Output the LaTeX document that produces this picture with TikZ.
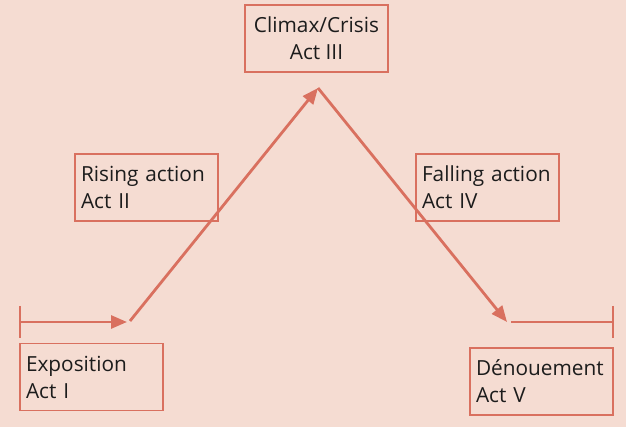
\documentclass[tikz,border=0pt]{standalone}
\usepackage{fontspec}
\setmainfont{Open Sans}
\usetikzlibrary{arrows.meta}
\definecolor{bgpink}{HTML}{F5DCD2}
\definecolor{plotred}{HTML}{D9705F}
\definecolor{inkgrey}{HTML}{1C1C1C}
\begin{document}
\begin{tikzpicture}[x=1pt,y=-1pt,
  actbox/.style={draw=plotred, line width=1.6pt, minimum width=143pt, minimum height=67pt,
    inner sep=0pt, text=inkgrey, font=\fontsize{20.8}{27}\selectfont},
  leftbox/.style={actbox, align=left, text width=131pt},
  arc/.style={draw=plotred, line width=2.8pt},
  tip/.style={-{Triangle[length=16pt,width=13pt]}}]
  % background
  \fill[bgpink] (0,0) rectangle (626,427);
  \useasboundingbox (0,0) rectangle (626,427);

  % act labels
  \node[leftbox] (exp) at (91.5,377) {Exposition\\Act I};
  \node[leftbox] (rise) at (146.5,187.5) {Rising action\\Act II};
  \node[actbox, align=center] (climax) at (316.5,38.5) {Climax/Crisis\\Act III};
  \node[leftbox] (fall) at (487.5,187.5) {Falling action\\Act IV};
  \node[leftbox] (den) at (541.5,381.5) {Dénouement\\Act V};

  % plot line points
  \coordinate (start) at (20,322);
  \coordinate (expend) at (127,322);
  \coordinate (risestart) at (130,321);
  \coordinate (peak) at (318,88);
  \coordinate (fallend) at (507,322);
  \coordinate (denstart) at (511,322);
  \coordinate (finish) at (613,322);

  % plot line
  \draw[arc] (start) ++(0,-16) -- ++(0,32);
  \draw[arc, tip] (start) -- (expend);
  \draw[arc, tip] (risestart) -- (peak);
  \draw[arc, tip] (peak) -- (fallend);
  \draw[arc] (denstart) -- (finish);
  \draw[arc] (finish) ++(0,-16) -- ++(0,32);
\end{tikzpicture}
\end{document}
